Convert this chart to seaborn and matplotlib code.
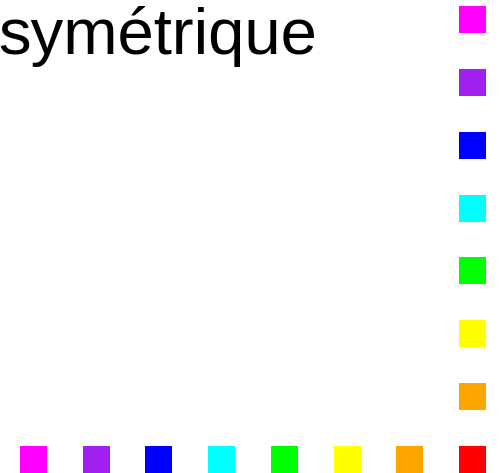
import matplotlib
matplotlib.use("Agg")
import matplotlib.pyplot as plt
import seaborn as sns
import pandas as pd

# Symmetric 8x8 matrix: only last row and last column filled
colors = ["magenta", "purple", "blue", "cyan", "green", "yellow", "orange", "red"]
hex_colors = ["#FF00FF", "#A020F0", "#0000FF", "#00FFFF", "#00FF00", "#FFFF00", "#FFA500", "#FF0000"]
# bottom row (row index 7 from top), columns 0..7
row_bottom = [7, 7, 7, 7, 7, 7, 7, 7]
col_bottom = [0, 1, 2, 3, 4, 5, 6, 7]
color_bottom = ["magenta", "purple", "blue", "cyan", "green", "yellow", "orange", "red"]
# right column (column index 7), rows 0..6
row_right = [0, 1, 2, 3, 4, 5, 6]
col_right = [7, 7, 7, 7, 7, 7, 7]
color_right = ["magenta", "purple", "blue", "cyan", "green", "yellow", "orange"]
title_text = "symétrique"

df = pd.DataFrame({
    "row": row_bottom + row_right,
    "col": col_bottom + col_right,
    "color": color_bottom + color_right,
})

sns.set_style("white")
plt.rcParams["font.family"] = ["Liberation Sans", "DejaVu Sans"]

W, H = 500, 473
fig = plt.figure(figsize=(W / 100, H / 100), dpi=100)
ax = fig.add_axes([0, 0, 1, 1])

sns.scatterplot(data=df, x="col", y="row", hue="color",
                palette=dict(zip(colors, hex_colors)), hue_order=colors,
                marker="s", s=(27 * 0.72) ** 2, linewidth=0, legend=False, ax=ax)

# pixel mapping: col i center at 33.5 + 62.71*i ; row r center at 19.5 + 62.86*r
sx, ox = 62.71, 33.5
sy, oy = 62.86, 19.5
ax.set_xlim((0 - ox) / sx, (W - ox) / sx)
ax.set_ylim((H - oy) / sy, (0 - oy) / sy)
ax.axis("off")

fig.text(-2 / W, 1 - 54 / H, title_text, fontsize=47, ha="left", va="baseline",
         color="black")

fig.savefig("out.png", dpi=100)
